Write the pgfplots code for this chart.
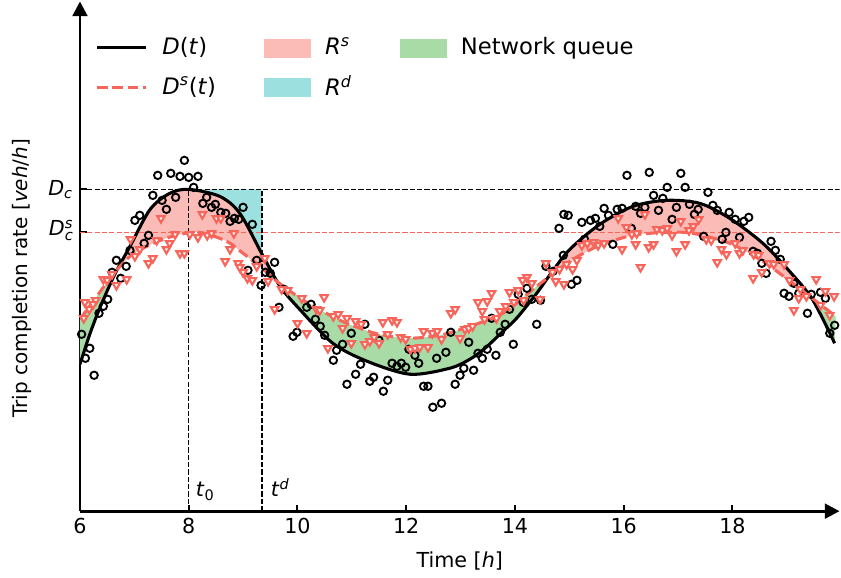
\documentclass[border=0pt]{standalone}
\usepackage{fontspec}
\setmainfont{DejaVu Sans}
\usepackage{pgfplots}
\usepackage{pgfplotstable}
\pgfplotsset{compat=1.18}
\usepgfplotslibrary{fillbetween}
\usetikzlibrary{arrows.meta}
\definecolor{pinkc}{HTML}{FBBCB8}
\definecolor{cyanc}{HTML}{9CE0E0}
\definecolor{greenc}{HTML}{A8DBA6}
\definecolor{redc}{HTML}{F8655A}
\pgfplotsset{
  linelegend/.style={legend image code/.code={\draw[##1] (0pt,0pt) -- (37pt,0pt);}},
  patchlegend/.style={legend image code/.code={\fill[##1] (0pt,-6.75pt) rectangle (34.5pt,6.75pt);}},
}
\newcommand{\Dcs}{\textit{D}\begingroup\fontsize{11}{9}\selectfont\begin{tabular}[c]{@{}l@{}}\textit{s}\\\textit{c}\end{tabular}\endgroup}

\pgfplotstableread{
t v
7.92 353
7.43 338
7.67 340
7.84 337
8.00 336
8.17 337
8.09 326
7.34 318
7.76 316
7.51 313
7.59 304
8.26 310
8.33 316
7.10 298
7.01 293
7.26 278
7.18 270
6.92 263
6.67 253
6.85 247
6.59 241
6.75 235
6.51 214
6.43 207
6.35 200
6.03 179
6.18 165
6.10 155
6.26 138
8.42 306
8.49 309
8.59 301
8.68 300
8.76 292
8.84 295
8.92 294
9.00 306
9.17 289
9.25 253
9.58 251
9.09 243
9.41 241
9.50 240
9.33 228
9.75 224
9.66 206
10.17 206
10.25 209
10.33 194
10.42 187
10.50 178
9.99 181
9.92 177
10.72 163
10.66 153
11.24 189
10.99 180
10.83 169
11.50 173
12.82 181
13.15 171
12.05 164
12.16 158
12.56 155
12.73 161
12.23 150
11.74 150
11.83 147
11.91 150
11.99 146
11.16 149
11.07 139
10.91 129
11.40 136
11.33 132
11.66 133
11.58 122
12.32 127
12.40 127
12.99 138
13.06 145
12.90 129
12.49 106
12.65 110
14.90 299
14.98 298
14.81 285
15.23 291
15.39 293
15.48 295
15.28 274
14.89 258
14.57 247
14.70 242
15.04 229
15.14 233
14.22 225
14.06 219
14.31 214
14.47 213
14.15 211
13.90 204
13.82 189
13.57 195
14.40 189
13.73 181
13.97 169
13.49 164
13.40 155
13.32 160
13.65 158
13.24 143
16.06 338
16.47 341
17.05 340
16.80 326
17.13 326
17.55 321
16.55 318
16.72 315
15.64 305
15.72 298
15.88 304
15.97 305
16.22 307
16.39 306
16.31 300
16.64 303
16.97 306
17.21 309
17.30 299
17.37 304
17.64 308
17.72 303
17.94 301
16.89 294
16.14 285
15.56 287
15.80 269
17.47 277
17.81 274
17.88 281
18.05 294
18.21 292
18.30 296
18.13 276
18.71 272
18.79 263
18.38 262
18.46 260
18.88 254
18.54 250
18.62 240
19.13 230
18.95 220
19.04 217
19.22 220
19.45 219
19.62 221
19.71 215
19.38 200
19.88 188
19.79 180
}\blackpts

\pgfplotstableread{
t v
7.49 295
8.25 299
7.75 279
8.02 279
8.17 276
8.34 278
7.41 273
7.65 270
6.93 274
7.59 264
7.84 260
7.92 260
7.34 255
7.26 250
7.10 264
7.01 257
6.86 234
6.67 228
6.59 239
6.43 234
6.50 233
6.29 213
6.24 209
6.09 211
6.17 204
6.07 195
8.51 295
8.59 295
8.42 280
8.83 280
8.76 264
8.67 252
8.91 250
8.94 246
9.00 241
9.08 235
9.17 233
9.40 255
9.25 247
9.46 232
9.71 224
9.82 223
10.08 215
10.49 216
9.58 204
10.35 204
10.41 203
10.00 190
10.17 180
10.66 197
10.75 199
10.56 165
10.91 195
11.07 192
11.17 189
11.57 191
11.74 193
11.83 191
12.82 200
12.90 204
10.83 185
10.99 170
11.24 169
11.33 172
11.50 170
11.41 176
11.66 179
11.90 176
11.99 174
12.32 182
12.48 180
12.57 182
12.65 174
12.99 175
13.08 184
13.15 185
12.08 164
12.16 165
12.25 166
12.40 166
14.57 250
14.69 241
14.75 232
14.90 229
15.06 244
15.14 253
15.23 268
15.33 270
15.45 271
15.53 268
14.22 236
14.31 230
14.14 233
14.06 223
13.90 221
13.57 220
13.32 211
13.49 212
13.40 202
13.83 207
13.72 202
13.98 211
14.16 213
14.46 214
13.66 195
13.44 194
13.22 187
14.82 244
14.95 249
16.39 299
15.90 295
17.05 292
17.38 294
16.05 286
16.61 284
16.71 283
16.80 285
17.28 287
17.20 283
16.15 279
16.24 280
16.89 278
15.64 270
16.22 269
17.13 269
16.46 266
16.55 269
15.97 264
16.97 262
16.31 246
17.52 274
17.61 273
17.80 264
17.89 259
17.72 251
18.05 270
18.13 260
18.19 263
18.39 259
18.48 258
18.68 250
18.76 249
18.95 249
18.54 241
18.38 235
19.05 233
19.25 224
19.54 234
19.22 215
19.36 217
19.71 222
19.87 217
19.62 208
19.79 198
19.13 203
}\redpts

\pgfplotstableread{
t v
6.00 149
6.18 179
6.37 206
6.64 239
6.92 267
7.29 304
7.65 320
8.00 324
8.57 317
8.94 300
9.35 259
9.68 227
10.04 204
10.65 170
11.28 152
12.07 139
12.80 145
13.17 154
13.45 165
13.78 182
14.03 195
14.40 220
14.69 242
15.01 264
15.56 289
16.17 307
16.79 313
17.40 310
17.95 295
18.56 270
19.05 242
19.47 214
19.88 170
}\Dcurve

\pgfplotstableread{
t v
6.00 194
6.31 217
6.61 239
6.92 257
7.23 267
7.53 274
7.84 279
8.21 281
8.70 272
9.00 260
9.31 247
9.62 232
9.92 220
10.23 209
10.78 193
11.15 185
11.50 179
12.01 175
12.62 178
13.17 187
13.78 200
14.40 227
15.01 252
15.56 268
16.17 278
16.79 281
17.27 280
17.95 270
18.56 252
19.18 227
19.90 197
}\Dscurve

\begin{document}
\fontsize{15.5}{18.6}\selectfont
\begin{tikzpicture}
\begin{axis}[
  set layers,
  scale only axis, width=570pt, height=382.5pt,
  xmin=6, xmax=19.97, ymin=2, ymax=512,
  axis lines=left,
  axis line style={line width=2.2pt, -{Triangle[length=11pt,width=11pt]}},
  xtick={6,8,...,18},
  ytick={281,324},
  yticklabels={\Dcs,\textit{D}\textsubscript{\textit{c}}},
  tick align=inside,
  major tick length=5pt,
  tick style={line width=1.5pt, black},
  /pgf/number format/assume math mode=true,
  xlabel={Time [\textit{h}]},
  xlabel style={yshift=-3pt},
  ylabel={Trip completion rate [\textit{veh}/\textit{h}]},
  ylabel style={at={(axis description cs:-0.076,0.457)}, anchor=center, font=\fontsize{15}{18}\selectfont},
  legend columns=3,
  legend cell align=left,
  legend style={at={(axis description cs:0.0147,0.94)}, anchor=north west, draw=none, fill=none,
    font=\fontsize{17}{20}\selectfont,
    row sep=9pt,
    /tikz/every odd column/.append style={column sep=9pt},
    /tikz/every even column/.append style={column sep=34pt}},
]
% curves (paths)
\addplot[name path=D, draw=none, smooth, forget plot] table[x=t,y=v] {\Dcurve};
\addplot[name path=Ds, draw=none, smooth, forget plot] table[x=t,y=v] {\Dscurve};
\addplot[name path=Dc, draw=none, forget plot] coordinates {(6,324) (19.97,324)};
% fills
\addplot[greenc, forget plot] fill between[of=D and Ds, soft clip={domain=6:6.63}];
\addplot[pinkc, forget plot] fill between[of=D and Ds, soft clip={domain=6.63:9.63}];
\addplot[greenc, forget plot] fill between[of=D and Ds, soft clip={domain=9.63:14.64}];
\addplot[pinkc, forget plot] fill between[of=D and Ds, soft clip={domain=14.64:19.44}];
\addplot[greenc, forget plot] fill between[of=D and Ds, soft clip={domain=19.44:19.9}];
\addplot[cyanc, forget plot] fill between[of=D and Dc, soft clip={domain=8:9.35}];
% reference lines
\draw[black, line width=1pt, dash pattern=on 3.8pt off 1.7pt] (axis cs:6,324) -- (axis cs:19.97,324);
\draw[redc, line width=1.1pt, dash pattern=on 3.8pt off 1.7pt] (axis cs:6,281) -- (axis cs:19.97,281);
\draw[black, line width=1pt, dash pattern=on 3.8pt off 1.7pt] (axis cs:8,2) -- (axis cs:8,324);
\draw[black, line width=1pt, dash pattern=on 3.8pt off 1.7pt] (axis cs:9.35,2) -- (axis cs:9.35,324);
% scatter
\addplot[only marks, mark=o, mark size=2.8pt, mark options={draw=black, fill=white, line width=1.4pt}, forget plot] table[x=t,y=v] {\blackpts};
\addplot[only marks, mark=triangle*, mark size=3.2pt, mark options={rotate=180, draw=redc, fill=white, line width=1.6pt}, forget plot] table[x=t,y=v] {\redpts};
% visible curves
\addplot[black, line width=2.3pt, smooth, forget plot] table[x=t,y=v] {\Dcurve};
\addplot[redc, line width=2.3pt, smooth, dash pattern=on 8pt off 3.5pt, forget plot] table[x=t,y=v] {\Dscurve};
% labels
\node[anchor=west] at (axis cs:8.0,22) {\textit{t}\textsubscript{0}};
\node[anchor=west] at (axis cs:9.38,26) {\textit{t}\textsuperscript{\textit{d}}};
\coordinate (padleft) at (rel axis cs:-0.1053,0);
% legend
\addlegendimage{linelegend, black, line width=2.3pt}
\addlegendentry{\textit{D}(\textit{t})}
\addlegendimage{patchlegend, pinkc}
\addlegendentry{\textit{R}\textsuperscript{\textit{s}}}
\addlegendimage{patchlegend, greenc}
\addlegendentry{Network queue}
\addlegendimage{linelegend, redc, line width=2.3pt, dash pattern=on 8pt off 3.5pt}
\addlegendentry{\textit{D}\textsuperscript{\textit{s}}(\textit{t})}
\addlegendimage{patchlegend, cyanc}
\addlegendentry{\textit{R}\textsuperscript{\textit{d}}}
\end{axis}
\path (padleft);
\end{tikzpicture}
\end{document}
